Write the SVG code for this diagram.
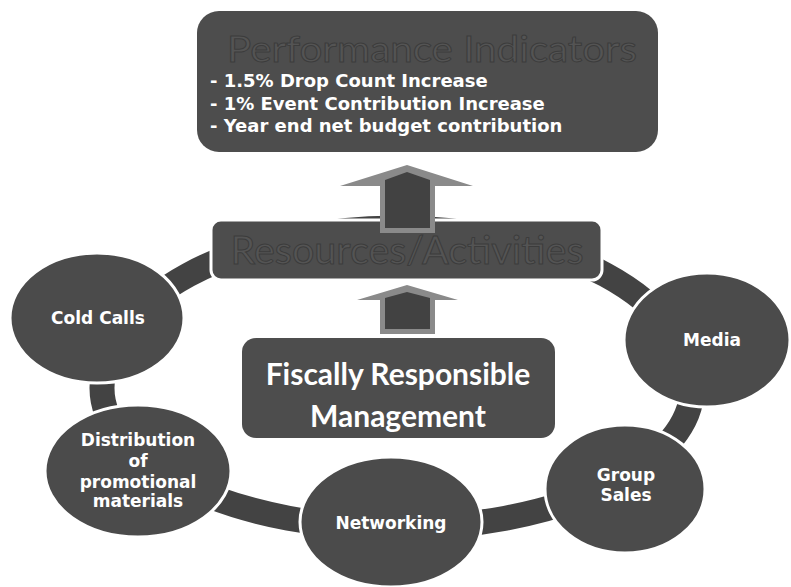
<svg xmlns="http://www.w3.org/2000/svg" width="791" height="587" viewBox="0 0 791 587">
  <defs>
    <style>
      .box { fill: #4d4d4d; }
      .node { fill: #4b4b4b; stroke: #ffffff; stroke-width: 3; }
      .ring { fill: none; stroke: #434343; stroke-width: 25; }
      .label { font-family: "DejaVu Sans", Verdana, sans-serif; font-weight: bold; font-size: 17px; fill: #ffffff; text-anchor: middle; }
      .bullet { font-family: "DejaVu Sans", Verdana, sans-serif; font-weight: bold; font-size: 18px; fill: #ffffff; }
      .faint { font-family: Lato, "Open Sans", sans-serif; fill: #545454; stroke: #3c3c3c; stroke-width: 1; text-anchor: middle; }
      .big { font-family: Lato, "Open Sans", sans-serif; font-weight: bold; font-size: 30px; fill: #ffffff; text-anchor: middle; }
      .arrow-rim { fill: #8a8a8a; }
      .arrow-core { fill: #424242; }
    </style>
  </defs>

  <!-- ring linking the activity nodes -->
  <g id="connectors">
    <path class="ring" d="M 102 388 A 295 160 0 0 1 692 388 A 295 140 0 0 1 102 388 Z"/>
  </g>

  <!-- performance indicators -->
  <g id="performance-indicators">
    <rect class="box" x="197" y="11" width="461" height="141" rx="22"/>
    <text class="faint" x="432" y="62" font-size="36" textLength="410" lengthAdjust="spacingAndGlyphs">Performance Indicators</text>
    <text class="bullet" x="210" y="87">- 1.5% Drop Count Increase</text>
    <text class="bullet" x="210" y="110">- 1% Event Contribution Increase</text>
    <text class="bullet" x="210" y="132">- Year end net budget contribution</text>
  </g>

  <!-- resources bar -->
  <g id="resources-activities">
    <rect class="box" x="211" y="220" width="391" height="60" rx="10" stroke="#ffffff" stroke-width="3"/>
    <text class="faint" x="407" y="264" font-size="38" textLength="353" lengthAdjust="spacingAndGlyphs">Resources/Activities</text>
  </g>

  <!-- upward arrows -->
  <g id="arrow-upper">
    <polygon class="arrow-rim" points="407,165 473,186 435,186 435,233 380,233 380,186 340,186"/>
    <polygon class="arrow-core" points="407,172 430,180 430,228 385,228 385,180"/>
  </g>
  <g id="arrow-lower">
    <polygon class="arrow-rim" points="407,285 458,300 435,300 435,334 380,334 380,300 357,300"/>
    <polygon class="arrow-core" points="407,292 430,298 430,329 385,329 385,298"/>
  </g>

  <!-- central box -->
  <g id="fiscally-responsible">
    <rect class="box" x="242" y="338" width="313" height="100" rx="14" fill="#525252"/>
    <text class="big" x="398" y="385">Fiscally Responsible</text>
    <text class="big" x="398" y="427">Management</text>
  </g>

  <!-- activity nodes -->
  <g id="cold-calls">
    <ellipse class="node" cx="97" cy="318" rx="87" ry="65"/>
    <text class="label" x="98" y="324">Cold Calls</text>
  </g>
  <g id="distribution">
    <ellipse class="node" cx="138" cy="471" rx="93" ry="66"/>
    <text class="label" x="138" y="446">Distribution</text>
    <text class="label" x="138" y="467">of</text>
    <text class="label" x="138" y="488">promotional</text>
    <text class="label" x="138" y="507">materials</text>
  </g>
  <g id="networking">
    <ellipse class="node" cx="391" cy="522" rx="91" ry="65"/>
    <text class="label" x="391" y="529">Networking</text>
  </g>
  <g id="group-sales">
    <ellipse class="node" cx="625" cy="489" rx="80" ry="64"/>
    <text class="label" x="626" y="481">Group</text>
    <text class="label" x="626" y="501">Sales</text>
  </g>
  <g id="media">
    <ellipse class="node" cx="707" cy="340" rx="83" ry="67"/>
    <text class="label" x="712" y="346">Media</text>
  </g>
</svg>
